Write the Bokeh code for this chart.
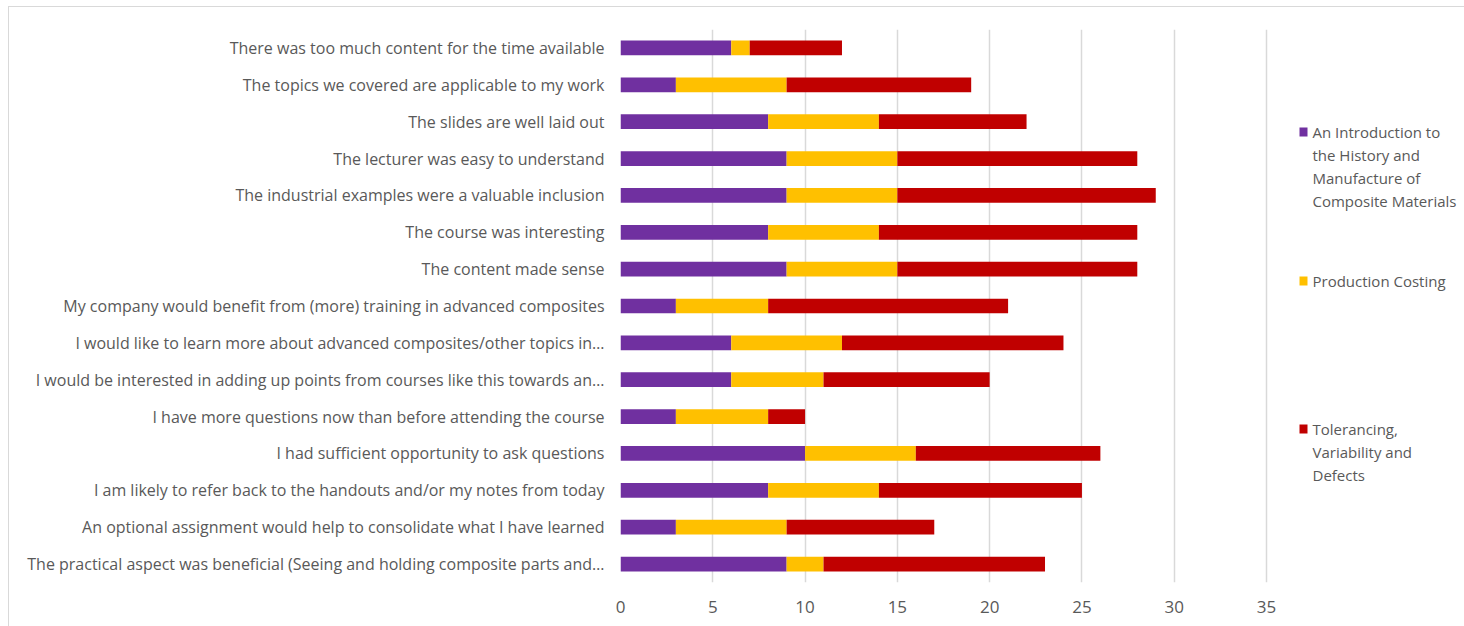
from bokeh.plotting import figure
from bokeh.models import ColumnDataSource, Range1d, FixedTicker, Label, BoxAnnotation, InlineStyleSheet
from bokeh.embed import file_html
from bokeh.resources import INLINE

questions = [
    "There was too much content for the time available",
    "The topics we covered are applicable to my work",
    "The slides are well laid out",
    "The lecturer was easy to understand",
    "The industrial examples were a valuable inclusion",
    "The course was interesting",
    "The content made sense",
    "My company would benefit from (more) training in advanced composites",
    "I would like to learn more about advanced composites/other topics in…",
    "I would be interested in adding up points from courses like this towards an…",
    "I have more questions now than before attending the course",
    "I had sufficient opportunity to ask questions",
    "I am likely to refer back to the handouts and/or my notes from today",
    "An optional assignment would help to consolidate what I have learned",
    "The practical aspect was beneficial (Seeing and holding composite parts and…",
]
history = [6, 3, 8, 9, 9, 8, 9, 3, 6, 6, 3, 10, 8, 3, 9]
costing = [1, 6, 6, 6, 6, 6, 6, 5, 6, 5, 5, 6, 6, 6, 2]
tolerancing = [5, 10, 8, 13, 14, 14, 13, 13, 12, 9, 2, 10, 11, 8, 12]

series = ["history", "costing", "tolerancing"]
series_labels = [
    ["An Introduction to", "the History and", "Manufacture of", "Composite Materials"],
    ["Production Costing"],
    ["Tolerancing,", "Variability and", "Defects"],
]
colors = ["#7030A0", "#FFC000", "#C00000"]
x_ticks = [0, 5, 10, 15, 20, 25, 30, 35]

source = ColumnDataSource(dict(q=questions, history=history, costing=costing, tolerancing=tolerancing))

FONT = "Open Sans"
TXT = "#595959"

# layout: frame from x=620 to the window edge; value 35 sits at x=1266
LEFT, TOP, BOTTOM, W, H = 620, 29, 44, 1464, 626
px_per_unit = (1266 - LEFT) / 35
x_end = (W - LEFT) / px_per_unit
frame_h = H - TOP - BOTTOM

border_css = InlineStyleSheet(css="""
:host::after {
  content: "";
  position: absolute;
  left: 8px; top: 6px; right: -20px; bottom: -20px;
  border: 1.5px solid #D9D9D9;
  pointer-events: none;
}
""")

p = figure(
    width=W, height=H,
    y_range=list(reversed(questions)),
    x_range=Range1d(0, x_end),
    output_backend="svg", toolbar_location=None,
    min_border_left=LEFT, min_border_right=0, min_border_top=TOP, min_border_bottom=BOTTOM,
    stylesheets=[border_css],
)
p.hbar_stack(series, y="q", height=0.4, color=colors, source=source, line_width=0)

p.outline_line_color = None
p.background_fill_color = "white"
p.ygrid.grid_line_color = None
p.xgrid.grid_line_color = "#D9D9D9"
p.xgrid.grid_line_width = 1.5
p.xaxis.ticker = FixedTicker(ticks=x_ticks)
p.xaxis.axis_line_color = None
p.xaxis.major_tick_line_color = None
p.xaxis.minor_tick_line_color = None
p.xaxis.major_label_text_font = FONT
p.xaxis.major_label_text_font_size = "17px"
p.xaxis.major_label_text_color = TXT
p.xaxis.major_label_standoff = 12
p.yaxis.axis_line_color = None
p.yaxis.major_tick_line_color = None
p.yaxis.major_label_text_font = FONT
p.yaxis.major_label_text_font_size = "16px"
p.yaxis.major_label_text_color = TXT
p.yaxis.major_label_standoff = 10

# legend (manual, Excel-like even spacing)
item_y = [131, 280, 428]
for lines, c, y0 in zip(series_labels, colors, item_y):
    p.add_layout(BoxAnnotation(left=1299 - LEFT, right=1307 - LEFT,
                               top=frame_h + TOP - (y0 - 4), bottom=frame_h + TOP - (y0 + 5),
                               left_units="screen", right_units="screen", top_units="screen", bottom_units="screen",
                               fill_color=c, fill_alpha=1, line_color=None))
    for i, t in enumerate(lines):
        p.add_layout(Label(x=1312 - LEFT, y=frame_h + TOP - (y0 + 23 * i), x_units="screen", y_units="screen",
                           text=t, text_color=TXT, text_font=FONT, text_font_size="15px",
                           text_baseline="middle"))

open("out.html", "w").write(file_html(p, INLINE))
